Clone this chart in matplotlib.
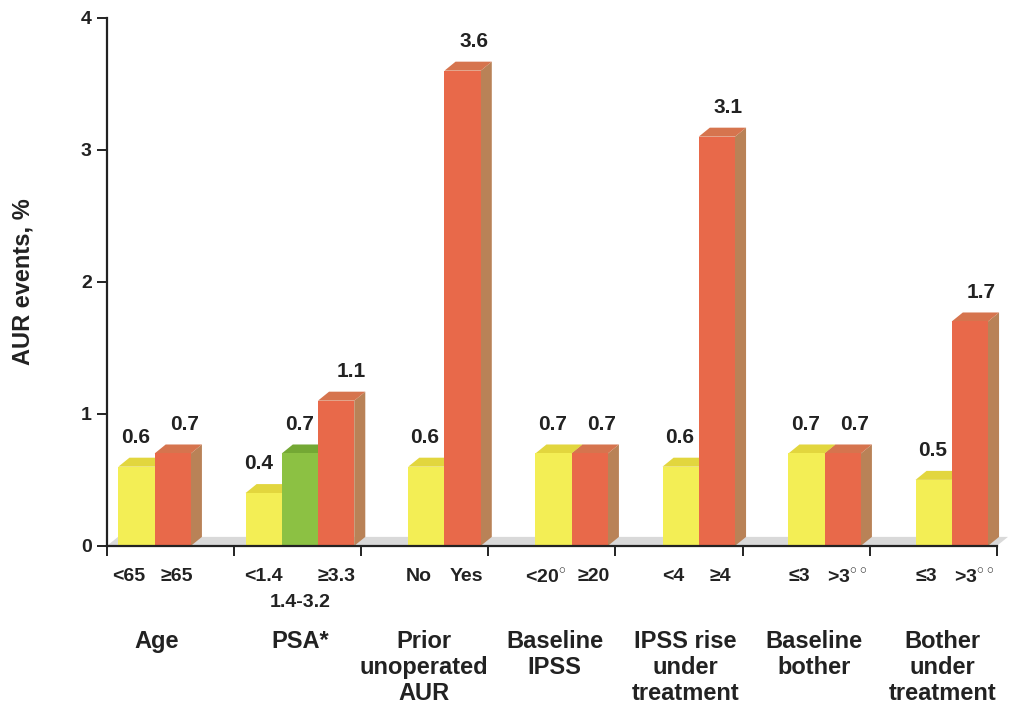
import matplotlib.pyplot as plt
from matplotlib.patches import Polygon, Rectangle

plt.rcParams['font.family'] = ['Liberation Sans', 'DejaVu Sans']
plt.rcParams['font.weight'] = 'bold'
plt.rcParams['mathtext.fontset'] = 'custom'
plt.rcParams['mathtext.rm'] = 'Liberation Sans:bold'
plt.rcParams['mathtext.bf'] = 'Liberation Sans:bold'

# groups and their subgroup values (AUR events, %)
groups = ['Age', 'PSA*', 'Prior\nunoperated\nAUR', 'Baseline\nIPSS',
          'IPSS rise\nunder\ntreatment', 'Baseline\nbother', 'Bother\nunder\ntreatment']
sub_labels = [['<65', '≥65'],
              ['<1.4', '1.4-3.2', '≥3.3'],
              ['No', 'Yes'],
              [r'<20$^{\circ}$', '≥20'],
              ['<4', '≥4'],
              ['≤3', r'>3$^{\circ\circ}$'],
              ['≤3', r'>3$^{\circ\circ}$']]
values = [[0.6, 0.7],
          [0.4, 0.7, 1.1],
          [0.6, 3.6],
          [0.7, 0.7],
          [0.6, 3.1],
          [0.7, 0.7],
          [0.5, 1.7]]
value_text = [['0.6', '0.7'],
              ['0.4', '0.7', '1.1'],
              ['0.6', '3.6'],
              ['0.7', '0.7'],
              ['0.6', '3.1'],
              ['0.7', '0.7'],
              ['0.5', '1.7']]

# front / top / side shades
yellow = ('#f3ee55', '#e2d63e', '#c9b838')
green = ('#8cc143', '#74a834', '#5f8c2a')
orange = ('#e8694a', '#d6744e', '#b98257')

first_bar = [0.09, 0.09, 0.37, 0.37, 0.37, 0.36, 0.36]
group_label_x = [0.39, 0.52, 0.49, 0.52, 0.55, 0.56, 0.57]
bar_w = 0.285
dx, dy = 0.087, 0.068
ink = '#222222'

fig = plt.figure(figsize=(10.09, 7.08), dpi=100)
ax = fig.add_axes([0.106, 0.229, 0.882, 0.7458])
ax.set_xlim(0, 7)
ax.set_ylim(0, 4)

# grey floor behind the bars
ax.add_patch(Polygon([(0, 0), (7, 0), (7 + dx, dy), (dx, dy)],
                     closed=True, facecolor='#d9d9d9', edgecolor='none',
                     zorder=1, clip_on=False))


def bar3d(x, h, shades, z):
    front, top, side = shades
    ax.add_patch(Polygon([(x + bar_w, 0), (x + bar_w + dx, dy),
                          (x + bar_w + dx, h + dy), (x + bar_w, h)],
                         closed=True, facecolor=side, edgecolor='none',
                         zorder=z, clip_on=False))
    ax.add_patch(Polygon([(x, h), (x + dx, h + dy), (x + bar_w + dx, h + dy),
                          (x + bar_w, h)],
                         closed=True, facecolor=top, edgecolor='none',
                         zorder=z, clip_on=False))
    ax.add_patch(Rectangle((x, 0), bar_w, h, facecolor=front,
                           edgecolor='none', zorder=z + 0.5, clip_on=False))


z = 2
for g, vals in enumerate(values):
    n = len(vals)
    if n == 3:
        shades = [yellow, green, orange]
        shifts = [-0.04, 0.0, 0.12]
    else:
        shades = [yellow, orange]
        shifts = [-0.01, 0.09]
    for i, v in enumerate(vals):
        x = g + first_bar[g] + i * bar_w
        bar3d(x, v, shades[i], z)
        z += 1
        cx = x + bar_w / 2
        ax.text(cx + shifts[i], v + 0.15, value_text[g][i], ha='center',
                va='bottom', fontsize=15, fontweight='bold', color=ink,
                zorder=60, clip_on=False)
        # subgroup label under the bar (middle PSA label drops a row)
        if n == 3:
            ly = -0.43 if i == 1 else -0.235
            lx = cx
        else:
            ly = -0.235
            lx = cx - 0.06 if i == 0 else cx + 0.03
        ax.text(lx, ly, sub_labels[g][i], ha='center', va='center',
                fontsize=14, fontweight='bold', color=ink, clip_on=False)
    ax.text(g + group_label_x[g], -0.64, groups[g], ha='center', va='top',
            fontsize=17, fontweight='bold', color=ink, linespacing=1.15,
            clip_on=False)

# axes styling
for s in ['top', 'right']:
    ax.spines[s].set_visible(False)
for s in ['left', 'bottom']:
    ax.spines[s].set_linewidth(1.6)
    ax.spines[s].set_color(ink)
ax.spines['bottom'].set_zorder(50)
ax.set_yticks([0, 1, 2, 3, 4])
ax.set_yticklabels(['0', '1', '2', '3', '4'], fontsize=14, fontweight='bold',
                   color=ink)
ax.set_xticks(range(8))
ax.set_xticklabels([])
ax.tick_params(axis='both', direction='out', length=7, width=1.4, color=ink)
ax.tick_params(axis='y', pad=4)
ax.set_ylabel('AUR events, %', fontsize=17, fontweight='bold', color=ink,
              labelpad=33)

fig.savefig('out.png', dpi=100)
